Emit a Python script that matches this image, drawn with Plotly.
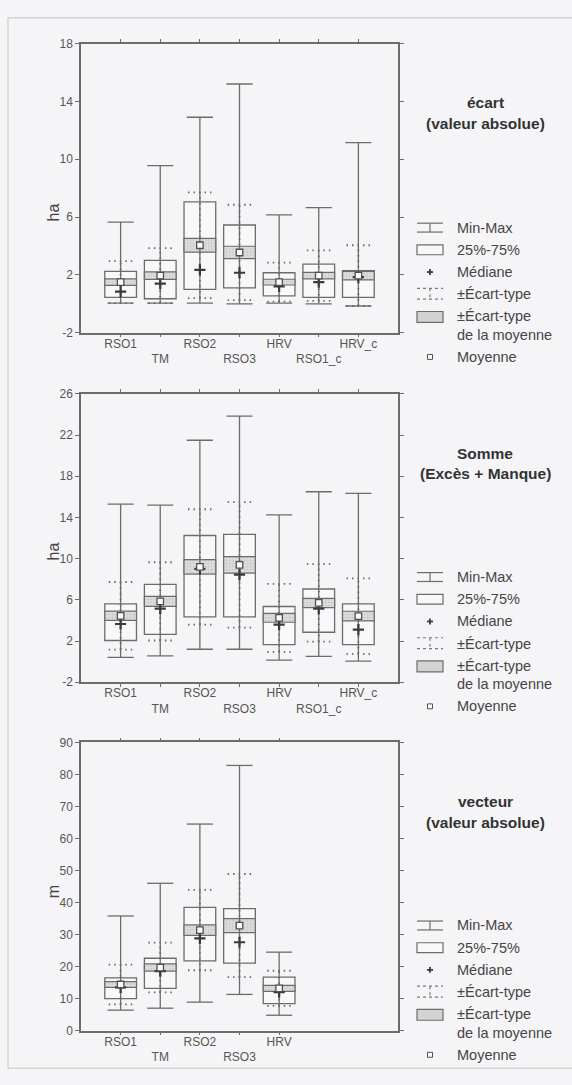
import plotly.graph_objects as go

# ---------------------------------------------------------------- data
cats_a = ["RSO1", "TM", "RSO2", "RSO3", "HRV", "RSO1_c", "HRV_c"]
cats_v = ["RSO1", "TM", "RSO2", "RSO3", "HRV"]

# écart (valeur absolue), ha
ecart_min = [0.05, 0.05, 0.05, 0.0, 0.05, 0.0, -0.15]
ecart_q1 = [0.45, 0.35, 1.0, 1.1, 0.55, 0.45, 0.45]
ecart_q3 = [2.25, 3.0, 7.05, 5.45, 2.15, 2.75, 2.3]
ecart_max = [5.65, 9.55, 12.9, 15.2, 6.15, 6.65, 11.15]
ecart_med = [0.85, 1.4, 2.35, 2.15, 1.2, 1.5, 1.85]
ecart_mean = [1.5, 1.95, 4.05, 3.55, 1.5, 1.95, 1.95]
ecart_sd = [1.45, 1.9, 3.65, 3.3, 1.35, 1.75, 2.1]
ecart_se = [0.22, 0.26, 0.48, 0.43, 0.2, 0.22, 0.3]

# Somme (Excès + Manque), ha
somme_min = [0.4, 0.55, 1.2, 1.2, 0.15, 0.5, 0.05]
somme_q1 = [2.05, 2.65, 4.35, 4.35, 1.65, 2.85, 1.65]
somme_q3 = [5.6, 7.5, 12.25, 12.35, 5.35, 7.05, 5.6]
somme_max = [15.3, 15.2, 21.5, 23.85, 14.25, 16.5, 16.35]
somme_med = [3.65, 5.15, 9.0, 8.45, 3.6, 5.15, 3.1]
somme_mean = [4.45, 5.85, 9.2, 9.4, 4.25, 5.7, 4.42]
somme_sd = [3.28, 3.8, 5.6, 6.1, 3.3, 3.77, 3.67]
somme_se = [0.45, 0.48, 0.7, 0.8, 0.43, 0.45, 0.47]

# vecteur (valeur absolue), m
vect_min = [6.4, 7.0, 8.9, 11.3, 4.8]
vect_q1 = [10.0, 13.2, 21.8, 21.1, 8.4]
vect_q3 = [16.5, 22.6, 38.5, 38.1, 16.7]
vect_max = [35.8, 46.0, 64.5, 82.8, 24.5]
vect_med = [13.5, 18.6, 28.8, 27.6, 12.0]
vect_mean = [14.4, 19.7, 31.4, 32.8, 13.2]
vect_sd = [6.2, 7.75, 12.55, 16.1, 5.5]
vect_se = [0.9, 1.15, 1.65, 2.2, 0.95]

# y tick values per panel
yticks_ecart = [-2, 2, 6, 10, 14, 18]
yticks_somme = [-2, 2, 6, 10, 14, 18, 22, 26]
yticks_vect = [0, 10, 20, 30, 40, 50, 60, 70, 80, 90]

legend_labels = ["Min-Max", "25%-75%", "Médiane", "±Écart-type",
                 "±Écart-type", "de la moyenne", "Moyenne"]

# ---------------------------------------------------------------- style
W, H = 572, 1085
FONT = "Liberation Sans"
LINE = "#6c6c6c"
BG = "#f5f5f7"
BOX_FILL = "#f8f8fa"
TXT = "#555555"

BOX_W = 0.8
CAP_HALF = 0.33
SD_HALF = 0.3

def px_x(px):
    return px / W

def px_y(py):
    return 1 - py / H

fig = go.Figure()

panels = [
    dict(cats=cats_a, mn=ecart_min, q1=ecart_q1, q3=ecart_q3, mx=ecart_max,
         med=ecart_med, mean=ecart_mean, sd=ecart_sd, se=ecart_se,
         top=37, bottom=330, yr=[-2, 18], yticks=yticks_ecart, ylab="ha",
         title=["écart", "(valeur absolue)"]),
    dict(cats=cats_a, mn=somme_min, q1=somme_q1, q3=somme_q3, mx=somme_max,
         med=somme_med, mean=somme_mean, sd=somme_sd, se=somme_se,
         top=392, bottom=684, yr=[-2, 26], yticks=yticks_somme, ylab="ha",
         title=["Somme", "(Excès + Manque)"]),
    dict(cats=cats_v, mn=vect_min, q1=vect_q1, q3=vect_q3, mx=vect_max,
         med=vect_med, mean=vect_mean, sd=vect_sd, se=vect_se,
         top=745, bottom=1037, yr=[0, 90], yticks=yticks_vect, ylab="m",
         title=["vecteur", "(valeur absolue)"]),
]

PLOT_L, PLOT_R = 81, 398
shapes = []
annotations = []

for k, p in enumerate(panels):
    sfx = "" if k == 0 else str(k + 1)
    xa, ya = "x" + sfx, "y" + sfx
    n = len(p["cats"])
    pos = list(range(1, n + 1))

    # whiskers min-max with caps
    wx, wy = [], []
    for i in range(n):
        x = pos[i]
        wx += [x, x, None, x - CAP_HALF, x + CAP_HALF, None,
               x - CAP_HALF, x + CAP_HALF, None]
        wy += [p["mn"][i], p["mx"][i], None, p["mn"][i], p["mn"][i], None,
               p["mx"][i], p["mx"][i], None]
    fig.add_trace(go.Scatter(x=wx, y=wy, mode="lines", xaxis=xa, yaxis=ya,
                             line=dict(color=LINE, width=1.3),
                             hoverinfo="skip", showlegend=False))

    # 25%-75% box
    fig.add_trace(go.Bar(x=pos, y=[b - a for a, b in zip(p["q1"], p["q3"])],
                         base=p["q1"], width=BOX_W, xaxis=xa, yaxis=ya,
                         marker=dict(color=BOX_FILL,
                                     line=dict(color=LINE, width=1.3)),
                         hoverinfo="skip", showlegend=False))

    # ± standard deviation (dotted)
    sx, sy = [], []
    for i in range(n):
        x = pos[i]
        lo = p["mean"][i] - p["sd"][i]
        hi = p["mean"][i] + p["sd"][i]
        sx += [x, x, None, x - SD_HALF, x + SD_HALF, None,
               x - SD_HALF, x + SD_HALF, None]
        sy += [lo, hi, None, lo, lo, None, hi, hi, None]
    fig.add_trace(go.Scatter(x=sx, y=sy, mode="lines", xaxis=xa, yaxis=ya,
                             line=dict(color="#6a6a6a", width=1.8,
                                       dash="1.5px,4px"),
                             hoverinfo="skip", showlegend=False))

    # ± standard error of the mean (shaded band)
    fig.add_trace(go.Bar(x=pos, y=[2 * s for s in p["se"]],
                         base=[m - s for m, s in zip(p["mean"], p["se"])],
                         width=BOX_W, xaxis=xa, yaxis=ya,
                         marker=dict(color="#d8d8d8",
                                     pattern=dict(shape=".", fgcolor="#a9a9a9",
                                                  bgcolor="#dcdcdc", size=3,
                                                  solidity=0.25),
                                     line=dict(color=LINE, width=1.2)),
                         hoverinfo="skip", showlegend=False))

    # median
    fig.add_trace(go.Scatter(x=pos, y=p["med"], mode="markers",
                             xaxis=xa, yaxis=ya,
                             marker=dict(symbol="cross-thin", size=8,
                                         line=dict(color="#3a3a3a", width=2.2)),
                             hoverinfo="skip", showlegend=False))
    # mean
    fig.add_trace(go.Scatter(x=pos, y=p["mean"], mode="markers",
                             xaxis=xa, yaxis=ya,
                             marker=dict(symbol="square", size=6.5,
                                         color="#fbfbfb",
                                         line=dict(color="#505050", width=1.3)),
                             hoverinfo="skip", showlegend=False))

    ticktext = [c if i % 2 == 0 else "<br>" + c for i, c in enumerate(p["cats"])]
    axis_common = dict(showline=True, linecolor=LINE, linewidth=1.5,
                       mirror="allticks", ticks="outside", tickcolor=LINE,
                       showgrid=False, zeroline=False)
    fig.update_layout(**{
        ("xaxis" + sfx): dict(
            domain=[px_x(PLOT_L), px_x(PLOT_R)], anchor=ya, range=[0, 8],
            tickmode="array", tickvals=pos, ticktext=ticktext, ticklen=3,
            tickangle=0, ticklabelstandoff=-4,
            tickfont=dict(family=FONT, size=12, color=TXT), **axis_common),
        ("yaxis" + sfx): dict(
            domain=[px_y(p["bottom"]), px_y(p["top"])], anchor=xa,
            range=p["yr"], tickmode="array", tickvals=p["yticks"],
            ticktext=[str(v) for v in p["yticks"]], ticklen=4,
            tickfont=dict(family=FONT, size=12, color=TXT), **axis_common),
    })

    # axis title
    annotations.append(dict(
        text=p["ylab"], x=px_x(43), y=px_y((p["top"] + p["bottom"]) / 2 + 14),
        xref="paper", yref="paper", textangle=-90, showarrow=False,
        font=dict(family=FONT, size=16, color="#444444")))

    # panel title
    for j, t in enumerate(p["title"]):
        annotations.append(dict(
            text="<b>" + t + "</b>", x=px_x(485),
            y=px_y(p["top"] + 60 + 21 * j), xref="paper", yref="paper",
            showarrow=False, xanchor="center", yanchor="middle",
            font=dict(family=FONT, size=15.5, color="#333333")))

    # legend
    base = p["bottom"] - 106.5
    rows = [base + d for d in (0, 22.5, 45, 67.5, 90, 108.5, 131)]
    sx0, sx1, sxc = 417, 443, 430
    for lab, ry in zip(legend_labels, rows):
        annotations.append(dict(
            text=lab, x=px_x(455), y=px_y(ry), xref="paper", yref="paper",
            showarrow=False, xanchor="left", yanchor="middle",
            font=dict(family=FONT, size=14.5, color="#454545")))

    def seg(x0, y0, x1, y1, **ln):
        shapes.append(dict(type="line", xref="paper", yref="paper",
                           x0=px_x(x0), y0=px_y(y0), x1=px_x(x1), y1=px_y(y1),
                           line=ln))

    def rect(x0, y0, x1, y1, fill, **ln):
        shapes.append(dict(type="rect", xref="paper", yref="paper",
                           x0=px_x(x0), y0=px_y(y0), x1=px_x(x1), y1=px_y(y1),
                           fillcolor=fill, line=ln))

    r = rows
    # Min-Max symbol
    seg(sx0, r[0] - 4.5, sx1, r[0] - 4.5, color=LINE, width=1.2)
    seg(sx0, r[0] + 4.5, sx1, r[0] + 4.5, color=LINE, width=1.2)
    seg(sxc, r[0] - 4.5, sxc, r[0] + 4.5, color=LINE, width=1.2)
    # 25%-75% symbol
    rect(sx0, r[1] - 5, sx1, r[1] + 5, BOX_FILL, color=LINE, width=1.2)
    # median symbol
    seg(sxc - 3, r[2], sxc + 3, r[2], color="#3a3a3a", width=1.8)
    seg(sxc, r[2] - 3, sxc, r[2] + 3, color="#3a3a3a", width=1.8)
    # standard deviation symbol
    seg(sx0, r[3] - 6, sx1, r[3] - 6, color="#7a7a7a", width=1.2, dash="dot")
    seg(sx0, r[3] + 5, sx1, r[3] + 5, color="#7a7a7a", width=1.2, dash="dot")
    seg(sxc, r[3] - 6, sxc, r[3] + 5, color="#7a7a7a", width=1.2, dash="dot")
    # standard error symbol
    rect(sx0, r[4] - 5, sx1, r[4] + 6, "#d3d3d3", color=LINE, width=1.2)
    # mean symbol
    rect(sxc - 2.5, r[6] - 2.5, sxc + 2.5, r[6] + 2.5, "#fbfbfb",
         color="#505050", width=1)

# outer frame
shapes.append(dict(type="rect", xref="paper", yref="paper",
                   x0=px_x(8), y0=px_y(1075), x1=px_x(600), y1=px_y(11),
                   line=dict(color="#c4c4c4", width=1), fillcolor="rgba(0,0,0,0)",
                   layer="below"))

fig.update_layout(
    width=W, height=H, margin=dict(l=0, r=0, t=0, b=0),
    paper_bgcolor=BG, plot_bgcolor=BG, barmode="overlay",
    showlegend=False, shapes=shapes, annotations=annotations,
    font=dict(family=FONT, color=TXT),
)

fig.write_html("out.html")
